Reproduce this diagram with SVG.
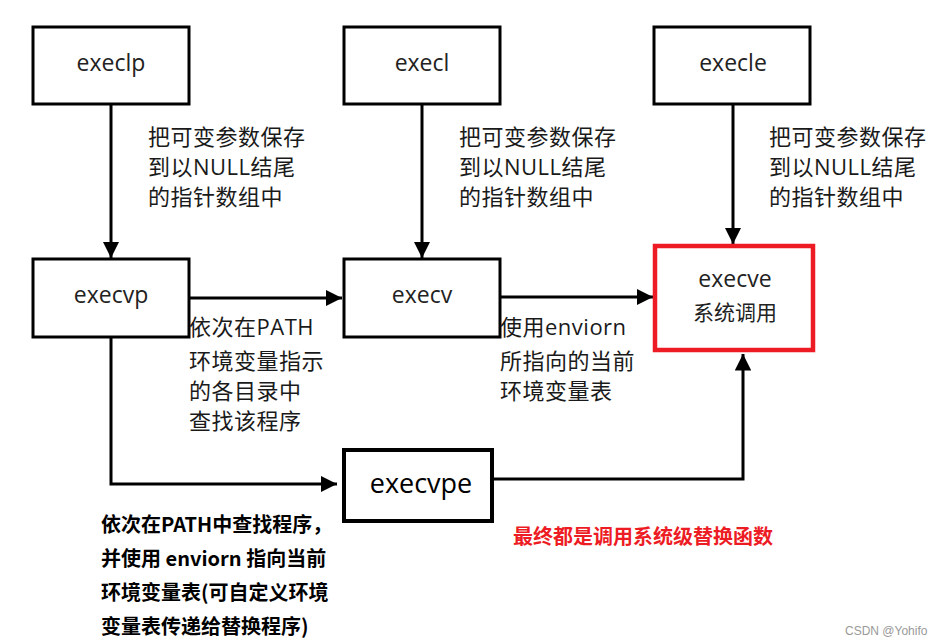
<svg xmlns="http://www.w3.org/2000/svg" width="936" height="644" viewBox="0 0 936 644">
<style>
.box{fill:#fff;stroke:#000;stroke-width:3}
.bt{font-family:"Open Sans","DejaVu Sans",sans-serif;font-size:23px;fill:#222;text-anchor:middle}
.lb{font-family:"Open Sans","Noto Sans CJK SC",sans-serif;font-size:22px;fill:#1a1a1a;letter-spacing:0.5px}
.bd{font-family:"Noto Sans CJK SC",sans-serif;font-size:20px;font-weight:bold;fill:#000}
.ln{fill:none;stroke:#000;stroke-width:3}
</style>
<defs>
<marker id="ah" viewBox="0 0 10 10" refX="10" refY="5" markerWidth="5.5" markerHeight="5.5" orient="auto" markerUnits="strokeWidth">
<path d="M0,0 L10,5 L0,10 z" fill="#000"/>
</marker>
</defs>
<rect width="936" height="644" fill="#fff"/>
<g id="connectors">
<path class="ln" d="M111,104 V258" marker-end="url(#ah)"/>
<path class="ln" d="M422,104 V258" marker-end="url(#ah)"/>
<path class="ln" d="M733,104 V244" marker-end="url(#ah)"/>
<path class="ln" d="M189,298 H342" marker-end="url(#ah)"/>
<path class="ln" d="M500,297 H653" marker-end="url(#ah)"/>
<path class="ln" d="M111,338 V484 H337" marker-end="url(#ah)"/>
<path class="ln" d="M493,479 H743 V354" marker-end="url(#ah)"/>
</g>
<g id="execlp">
<rect class="box" x="33" y="27" width="156" height="77"/>
<text class="bt" x="111" y="71">execlp</text>
</g>
<g id="execl">
<rect class="box" x="344" y="27" width="156" height="77"/>
<text class="bt" x="422" y="71">execl</text>
</g>
<g id="execle">
<rect class="box" x="654" y="27" width="156" height="77"/>
<text class="bt" x="733" y="71">execle</text>
</g>
<g id="execvp">
<rect class="box" x="33" y="259" width="156" height="78"/>
<text class="bt" x="111" y="303">execvp</text>
</g>
<g id="execv">
<rect class="box" x="344" y="259" width="156" height="78"/>
<text class="bt" x="422" y="303">execv</text>
</g>
<g id="execve">
<rect x="655" y="246" width="158" height="104" fill="#fff" stroke="#ed1c24" stroke-width="4.5"/>
<text class="bt" x="735" y="287">execve</text>
<text class="bt" x="735" y="320" style="font-family:'Noto Sans CJK SC',sans-serif;font-size:21px">系统调用</text>
</g>
<g id="execvpe">
<rect x="344" y="450" width="148" height="71" fill="#fff" stroke="#000" stroke-width="4"/>
<text x="421" y="493" style="font-family:'Open Sans','DejaVu Sans',sans-serif;font-size:27px;fill:#000;text-anchor:middle">execvpe</text>
</g>
<g id="labels">
<text class="lb" x="148" y="145">把可变参数保存</text>
<text class="lb" x="148" y="175">到以NULL结尾</text>
<text class="lb" x="148" y="205">的指针数组中</text>
<text class="lb" x="459" y="145">把可变参数保存</text>
<text class="lb" x="459" y="175">到以NULL结尾</text>
<text class="lb" x="459" y="205">的指针数组中</text>
<text class="lb" x="769" y="145">把可变参数保存</text>
<text class="lb" x="769" y="175">到以NULL结尾</text>
<text class="lb" x="769" y="205">的指针数组中</text>
<text class="lb" x="189" y="335">依次在PATH</text>
<text class="lb" x="189" y="369">环境变量指示</text>
<text class="lb" x="189" y="399">的各目录中</text>
<text class="lb" x="189" y="429">查找该程序</text>
<text class="lb" x="500" y="335">使用enviorn</text>
<text class="lb" x="500" y="369">所指向的当前</text>
<text class="lb" x="500" y="399">环境变量表</text>
<text class="bd" x="101" y="532">依次在PATH中查找程序，</text>
<text class="bd" x="101" y="566">并使用 enviorn 指向当前</text>
<text class="bd" x="101" y="600">环境变量表(可自定义环境</text>
<text class="bd" x="101" y="634">变量表传递给替换程序)</text>
<text class="bd" x="513" y="544" style="fill:#ed1c24">最终都是调用系统级替换函数</text>
<text x="845" y="635" style="font-family:'Liberation Sans',sans-serif;font-size:12px;fill:#999">CSDN @Yohifo</text>
</g>
</svg>
